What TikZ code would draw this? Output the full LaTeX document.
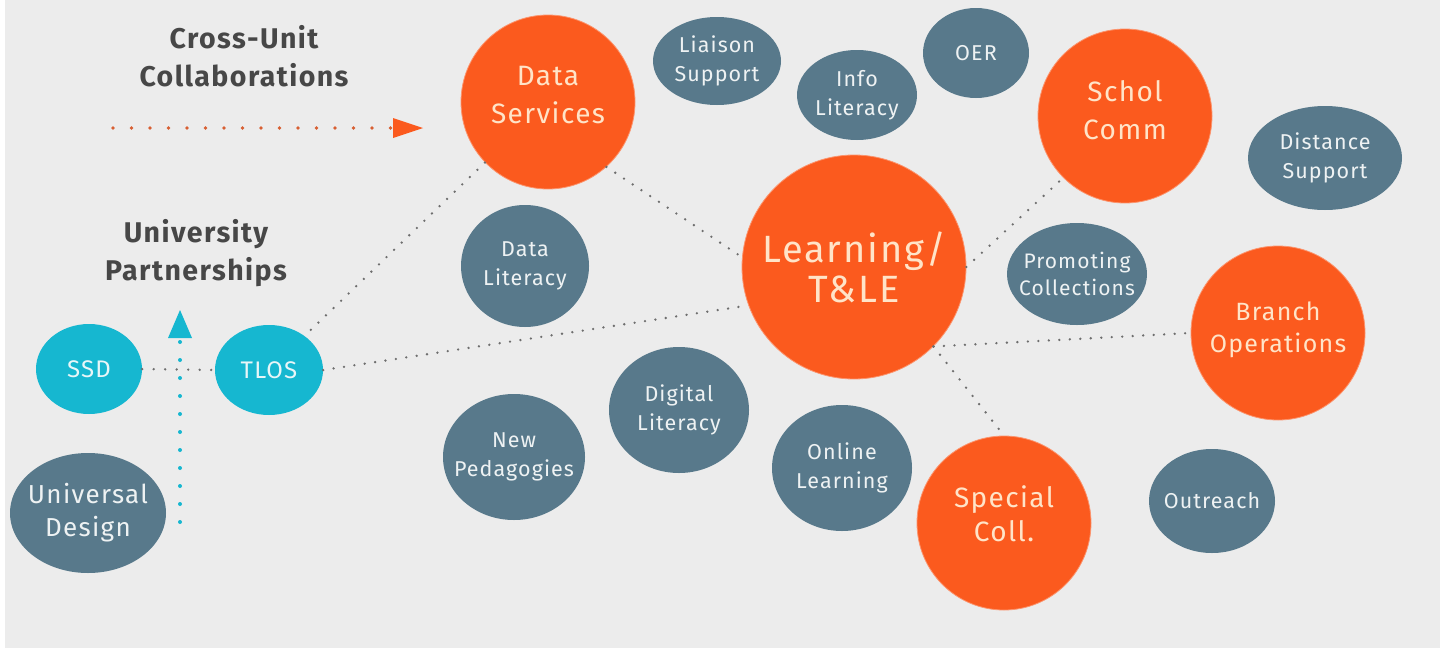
\documentclass[tikz,border=0pt]{standalone}
\usepackage{fontspec}
\setmainfont{Fira Sans}[LetterSpace=5]
\usetikzlibrary{shapes.geometric}
\definecolor{bg}{HTML}{ECECEC}
\definecolor{orng}{HTML}{FB5A1E}
\definecolor{slate}{HTML}{58798B}
\definecolor{cyanb}{HTML}{16B7D0}
\definecolor{otext}{HTML}{FFE4C8}
\definecolor{stext}{HTML}{EEF2F3}
\definecolor{ctext}{HTML}{E8F6F8}
\definecolor{title}{HTML}{474747}
\definecolor{dotgray}{HTML}{6E6E6E}
\begin{document}
\begin{tikzpicture}[x=1pt,y=-1pt,
  orangebub/.style={circle, fill=orng, draw=orng!65!white, line width=0.8pt, inner sep=0pt, minimum size=#1},
  slatebub/.style 2 args={ellipse, fill=slate, inner sep=0pt, minimum width=#1, minimum height=#2},
  cyanbub/.style 2 args={ellipse, fill=cyanb, inner sep=0pt, minimum width=#1, minimum height=#2},
  stxt/.style={text=stext, align=center, font=\fontsize{21.5}{29}\selectfont},
  ctxt/.style={text=ctext, align=center, font=\fontsize{24}{30}\selectfont},
  otxt/.style={text=otext, align=center, font=\fontsize{28}{38}\selectfont},
  titletxt/.style={text=title, align=center, font=\fontsize{28.5}{38}\selectfont\bfseries},
  dotline/.style={draw=dotgray, line width=2.6pt, line cap=round, dash pattern=on 0pt off 10.5pt},
]
% background
\fill[white] (0,0) rectangle (1440,648);
\fill[bg] (5,0) rectangle (1440,648);
\useasboundingbox (0,0) rectangle (1440,648);

% titles
\node[titletxt] (t1) at (244,56) {Cross-Unit\\Collaborations};
\node[titletxt] (t2) at (196,253) {University\\Partnerships};

% orange bubbles
\node[orangebub=174pt, label={[otxt, yshift=7pt]center:Data\\Services}] (ds) at (548,102) {};
\node[orangebub=174pt, label={[otxt, yshift=6pt]center:Schol\\Comm}] (sc) at (1125,116) {};
\node[orangebub=224pt, label={[otxt, font=\fontsize{38}{40}\selectfont]center:Learning/\\T\&LE}] (learn) at (854,267) {};
\node[orangebub=174pt, label={[otxt, yshift=3pt, font=\fontsize{25}{32}\selectfont]center:Branch\\Operations}] (br) at (1278,333) {};
\node[orangebub=174pt, label={[otxt, yshift=9pt, font=\fontsize{28}{34}\selectfont]center:Special\\Coll.}] (sp) at (1004,523) {};

% slate bubbles
\node[slatebub={128pt}{88pt}, label={[stxt]center:Liaison\\Support}] (liaison) at (717,61) {};
\node[slatebub={120pt}{90pt}, label={[stxt]center:Info\\Literacy}] (info) at (857,95) {};
\node[slatebub={106pt}{90pt}, label={[stxt]center:OER}] (oer) at (976,53) {};
\node[slatebub={154pt}{104pt}, label={[stxt]center:Distance\\Support}] (dist) at (1325,158) {};
\node[slatebub={128pt}{122pt}, label={[stxt]center:Data\\Literacy}] (dlit) at (525,266) {};
\node[slatebub={140pt}{102pt}, label={[stxt, font=\fontsize{21}{27}\selectfont]center:Promoting\\Collections}] (promo) at (1077,274) {};
\node[slatebub={140pt}{126pt}, label={[stxt]center:Digital\\Literacy}] (digi) at (679,410) {};
\node[slatebub={142pt}{126pt}, label={[stxt]center:New\\Pedagogies}] (newp) at (514,457) {};
\node[slatebub={140pt}{126pt}, label={[stxt]center:Online\\Learning}] (online) at (842,468) {};
\node[slatebub={126pt}{104pt}, label={[stxt]center:Outreach}] (outr) at (1212,501) {};
\node[slatebub={156pt}{120pt}, label={[stxt, font=\fontsize{26}{33}\selectfont]center:Universal\\Design}] (ud) at (88,513) {};

% cyan bubbles
\node[cyanbub={106pt}{90pt}, label={[ctxt]center:SSD}] (ssd) at (89,369) {};
\node[cyanbub={108pt}{90pt}, label={[ctxt]center:TLOS}] (tlos) at (269,370) {};

% connectors
\draw[dotline] (ds) -- (tlos);
\draw[dotline] (ds.-48) -- (learn.175);
\draw[dotline] (tlos.east) -- (learn.200);
\draw[dotline] (learn.east) -- (sc.225);
\draw[dotline] (learn.-45) -- (br.west);
\draw[dotline] (learn.-45) -- (sp.north);
\draw[dotline, dash pattern=on 0pt off 11.5pt] (ssd.east) -- (tlos.west);

% legend arrows
\coordinate (oa1) at (113,128);
\coordinate (oa2) at (393,128);
\draw[draw=orng!75!dotgray, line width=3.8pt, line cap=round, dash pattern=on 0pt off 18.5pt] (oa1) -- (oa2);
\fill[orng] (393,118) -- (423,128) -- (393,138) -- cycle;

\coordinate (ca1) at (180,522);
\coordinate (ca2) at (180,342);
\draw[draw=cyanb, line width=4pt, line cap=round, dash pattern=on 0pt off 18pt] (ca1) -- (ca2);
\fill[cyanb] (168,338) -- (180,310) -- (192,338) -- cycle;
\end{tikzpicture}
\end{document}
